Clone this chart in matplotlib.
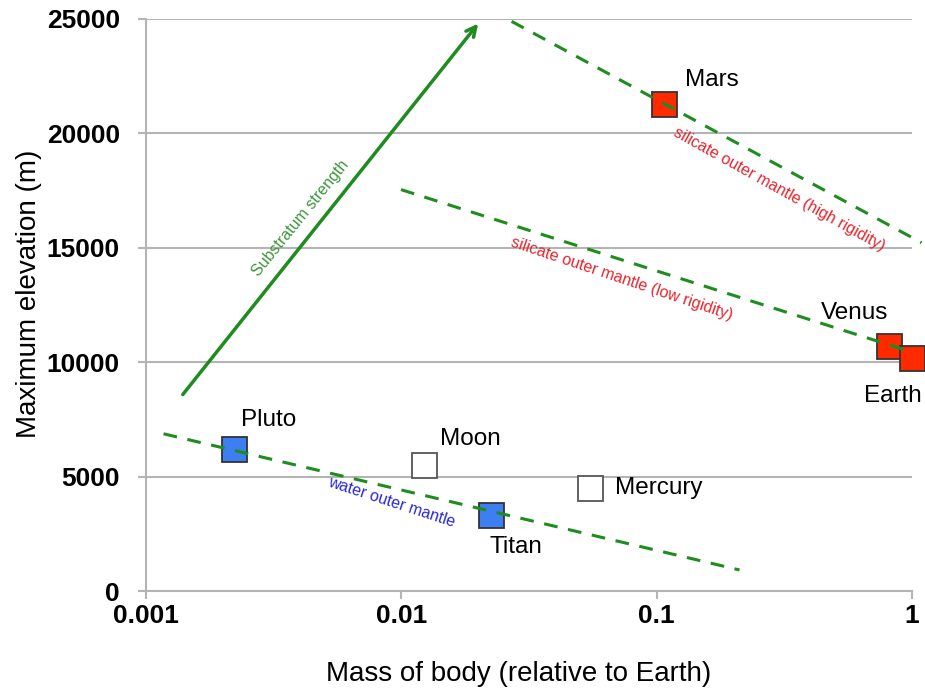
import matplotlib
matplotlib.use('Agg')
import numpy as np
import matplotlib.pyplot as plt

plt.rcParams['font.family'] = ['Liberation Sans', 'DejaVu Sans']

# bodies: mass relative to Earth, max elevation (m)
names = ['Pluto', 'Moon', 'Mercury', 'Titan', 'Mars', 'Venus', 'Earth']
mass = [0.0022, 0.0123, 0.055, 0.0225, 0.107, 0.815, 1.0]
elev = [6200, 5500, 4500, 3300, 21300, 10700, 10200]
kind = ['water', 'none', 'none', 'water', 'silicate', 'silicate', 'silicate']

# dashed trend lines (x pair, y pair)
water_x, water_y = [0.00117, 0.211], [6870, 920]
low_x, low_y = [0.00996, 0.935], [17540, 10540]
high_x, high_y = [0.027, 1.09], [24890, 15220]
# substratum arrow
arrow_x, arrow_y = [0.00137, 0.0203], [8490, 24890]

xticks = [0.001, 0.01, 0.1, 1]
xticklabels = ['0.001', '0.01', '0.1', '1']
yticks = [0, 5000, 10000, 15000, 20000, 25000]

fill = {'water': '#3d7ff0', 'silicate': '#ff2a00', 'none': 'white'}
label_off = {'Pluto': (7, 29), 'Moon': (16, 26), 'Mercury': (25, 0), 'Titan': (-2, -32),
             'Mars': (21, 24), 'Venus': (-68, 33), 'Earth': (-48, -38)}

fig = plt.figure(figsize=(9.25, 6.91), dpi=100)
ax = fig.add_axes([0.158, 0.1447, 0.828, 0.828])
ax.set_xscale('log')
ax.set_xlim(0.001, 1)
ax.set_ylim(0, 25000)

grey = '#b4b4b4'
ax.yaxis.grid(True, color=grey, lw=1.5)
ax.set_axisbelow(True)
for s in ['top', 'right']:
    ax.spines[s].set_visible(False)
for s in ['left', 'bottom']:
    ax.spines[s].set_color(grey)
    ax.spines[s].set_linewidth(1.5)

ax.set_xticks(xticks)
ax.set_xticklabels(xticklabels)
ax.minorticks_off()
ax.set_yticks(yticks)
ax.tick_params(axis='both', colors=grey, length=6, width=1.5, labelcolor='black',
               labelsize=19)
ax.tick_params(axis='x', pad=3)
ax.tick_params(axis='y', pad=13)
for t in ax.get_xticklabels() + ax.get_yticklabels():
    t.set_fontweight('bold')

ax.set_xlabel('Mass of body (relative to Earth)', fontsize=20)
ax.set_ylabel('Maximum elevation (m)', fontsize=20)
ax.xaxis.set_label_coords(0.486, -0.122)
ax.yaxis.set_label_coords(-0.136, 0.519)

# markers
for n, m, e, k in zip(names, mass, elev, kind):
    ec = '#333333' if k != 'none' else '#555555'
    ax.plot(m, e, marker='s', ms=18, mfc=fill[k], mec=ec, mew=1.3, ls='none',
            zorder=3, clip_on=False)
    dx, dy = label_off[n]
    ax.annotate(n, (m, e), xytext=(dx, dy), textcoords='offset pixels',
                ha='left', va='center', fontsize=17.5, zorder=5)

green = '#1e8c1e'
dash = (0, (4.5, 3.5))
ax.plot(water_x, water_y, ls=dash, color=green, lw=2.2, zorder=4)
ax.plot(low_x, low_y, ls=dash, color=green, lw=2.2, zorder=4)
ax.plot(high_x, high_y, ls=dash, color=green, lw=2.2, zorder=4, clip_on=False)

ax.annotate('', xy=(arrow_x[1], arrow_y[1]), xytext=(arrow_x[0], arrow_y[0]),
            arrowprops=dict(arrowstyle='->,head_length=0.7,head_width=0.35',
                            color=green, lw=2.5), zorder=4)

ax.text(0.00401, 16300, 'Substratum strength', color='#3c963c', fontsize=11.5,
        rotation=51, ha='center', va='center')
ax.text(0.303, 17540, 'silicate outer mantle (high rigidity)', color='#e8242c',
        fontsize=11.5, rotation=-29, ha='center', va='center')
ax.text(0.073, 13650, 'silicate outer mantle (low rigidity)', color='#e8242c',
        fontsize=11.5, rotation=-18.5, ha='center', va='center')
ax.text(0.00918, 3890, 'water outer mantle', color='#2828d8', fontsize=11.5,
        rotation=-18, ha='center', va='center')

fig.savefig('out.png', dpi=100)
